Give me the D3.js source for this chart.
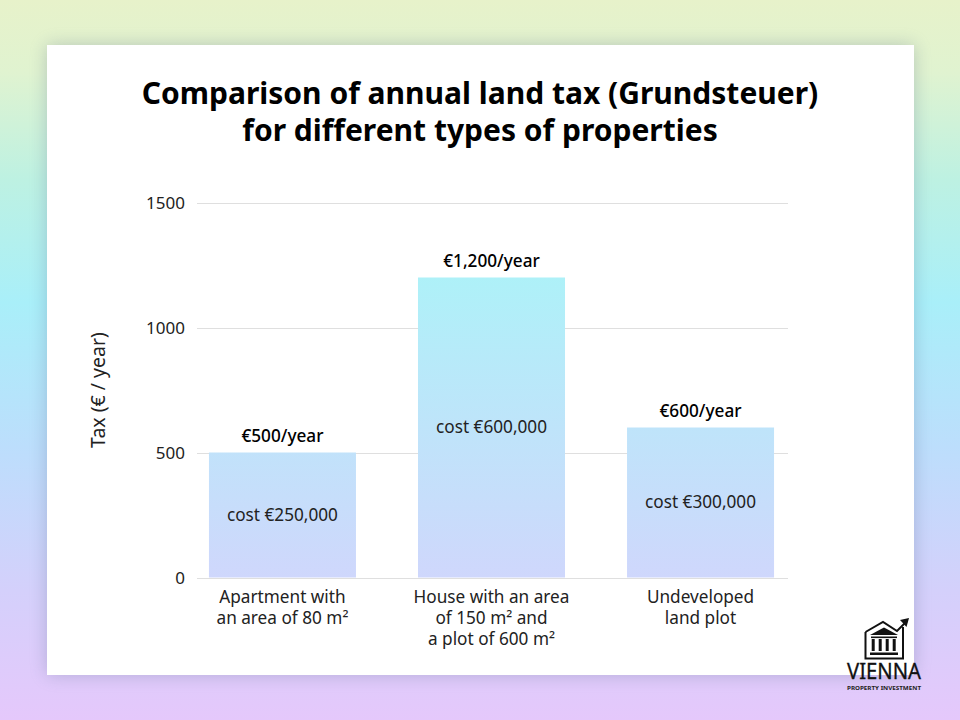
<!DOCTYPE html>
<html><head><meta charset="utf-8">
<script src="https://cdnjs.cloudflare.com/ajax/libs/d3/7.8.5/d3.min.js"></script>
<style>html,body{margin:0;padding:0;background:#fff}svg{display:block}text{font-family:"Noto Sans","Open Sans",sans-serif}</style>
</head><body><div id="chart"></div>
<script>
const categories = ["Apartment","House","Land"];
const taxValues = [500,1200,600];
const taxLabels = ["€500/year","€1,200/year","€600/year"];
const costLabels = ["cost €250,000","cost €600,000","cost €300,000"];
const categoryLines = [["Apartment with","an area of 80 m²"],["House with an area","of 150 m² and","a plot of 600 m²"],["Undeveloped","land plot"]];
const yTicks = [0,500,1000,1500];
const titleLines = ["Comparison of annual land tax (Grundsteuer)","for different types of properties"];
const yLabel = "Tax (€ / year)";

const svg = d3.select("#chart").append("svg").attr("width",960).attr("height",720);
const defs = svg.append("defs");
const bg = defs.append("linearGradient").attr("id","bg").attr("x1",0).attr("y1",0).attr("x2",0).attr("y2",1);
[[0,"#e7f2ca"],[.1,"#e0f3d0"],[.25,"#bdf1e2"],[.42,"#a9eff9"],[.62,"#bcdefc"],[.82,"#d4d0fb"],[1,"#e5c8fb"]]
  .forEach(s=>bg.append("stop").attr("offset",s[0]).attr("stop-color",s[1]));
const bar = defs.append("linearGradient").attr("id","bar").attr("gradientUnits","userSpaceOnUse").attr("x1",0).attr("y1",277).attr("x2",0).attr("y2",578);
[[0,"#aef1f8"],[1,"#cfd7fc"]].forEach(s=>bar.append("stop").attr("offset",s[0]).attr("stop-color",s[1]));
const blur = defs.append("filter").attr("id","shadow").attr("x","-5%").attr("y","-5%").attr("width","110%").attr("height","110%");
blur.append("feGaussianBlur").attr("stdDeviation",9);

svg.append("rect").attr("width",960).attr("height",720).attr("fill","url(#bg)");
svg.append("rect").attr("x",47).attr("y",45).attr("width",867).attr("height",630).attr("fill","#5a6a8a").attr("opacity",.32).attr("filter","url(#shadow)");
svg.append("rect").attr("x",47).attr("y",45).attr("width",867).attr("height",630).attr("fill","#fff");

svg.append("g").selectAll("text").data(titleLines).join("text")
  .attr("x",480).attr("y",(d,i)=>104+i*37).attr("text-anchor","middle")
  .attr("font-size",30).attr("font-weight",700).attr("fill","#000").text(d=>d);

const y = d3.scaleLinear().domain([0,1500]).range([577.5,202.5]);
const x = d3.scaleBand().domain(categories).range([196,787]).paddingInner(.2967).paddingOuter(.062);

const yAxis = svg.append("g").attr("transform","translate(197,0)")
  .call(d3.axisLeft(y).tickValues(yTicks).tickSize(-591).tickPadding(12).offset(1).tickFormat(d3.format("d")));
yAxis.select(".domain").remove();
yAxis.selectAll(".tick line").attr("stroke","#dfdfdf").attr("stroke-width",1);
yAxis.selectAll(".tick text").attr("font-size",17).attr("fill","#222").attr("font-family",'"Noto Sans"');

svg.append("g").selectAll("rect").data(categories).join("rect")
  .attr("x",d=>x(d)).attr("width",x.bandwidth())
  .attr("y",(d,i)=>y(taxValues[i])).attr("height",(d,i)=>y(0)-y(taxValues[i]))
  .attr("fill","url(#bar)");

svg.append("g").selectAll("text").data(categories).join("text")
  .attr("x",d=>x(d)+x.bandwidth()/2).attr("y",(d,i)=>y(taxValues[i])-10.5)
  .attr("text-anchor","middle").attr("font-size",17.2).attr("font-weight",500).attr("fill","#000")
  .text((d,i)=>taxLabels[i]);

svg.append("g").selectAll("text").data(categories).join("text")
  .attr("x",d=>x(d)+x.bandwidth()/2).attr("y",(d,i)=>(y(taxValues[i])+y(0))/2+5.5)
  .attr("text-anchor","middle").attr("font-size",17.2).attr("fill","#222")
  .text((d,i)=>costLabels[i]);

categories.forEach((c,i)=>{
  svg.append("g").selectAll("text").data(categoryLines[i]).join("text")
    .attr("x",x(c)+x.bandwidth()/2).attr("y",(d,j)=>603+j*21)
    .attr("text-anchor","middle").attr("font-size",17.2).attr("fill","#222").text(d=>d);
});

svg.append("text").attr("transform","translate(105,390) rotate(-90)").attr("text-anchor","middle")
  .attr("font-size",19.5).attr("fill","#222").text(yLabel);

// Logo
const logo = svg.append("g").attr("fill","none").attr("stroke","#111");
logo.append("path").attr("d","M865.5 632 L883 622 L897 631 L907 621").attr("stroke-width",2);
logo.append("path").attr("d","M865.5 632 V658.5 H903 V627").attr("stroke-width",2);
logo.append("path").attr("d","M909 618 L900 620 L906.5 627 Z").attr("fill","#111").attr("stroke","none");
logo.append("path").attr("d","M870 635 L884 627.5 L898 635 Z").attr("fill","#111").attr("stroke","none");
[873,880,887,894].forEach(px=>logo.append("rect").attr("x",px-1.3).attr("y",639).attr("width",3).attr("height",12).attr("fill","#111").attr("stroke","none"));
logo.append("rect").attr("x",871).attr("y",636.5).attr("width",26).attr("height",1.6).attr("fill","#111").attr("stroke","none");
logo.append("rect").attr("x",870).attr("y",652.5).attr("width",28).attr("height",2.5).attr("fill","#111").attr("stroke","none");
svg.append("text").attr("x",884).attr("y",679).attr("text-anchor","middle").attr("font-family",'"Liberation Serif"').attr("font-size",21).attr("fill","#111").attr("stroke","#111").attr("stroke-width",.3).attr("textLength",74).attr("lengthAdjust","spacingAndGlyphs").text("VIENNA");
svg.append("text").attr("x",884).attr("y",689.5).attr("text-anchor","middle").attr("font-family","Lato").attr("font-size",6).attr("font-weight",700).attr("fill","#222").attr("textLength",74).attr("lengthAdjust","spacingAndGlyphs").text("PROPERTY INVESTMENT");
</script></body></html>
